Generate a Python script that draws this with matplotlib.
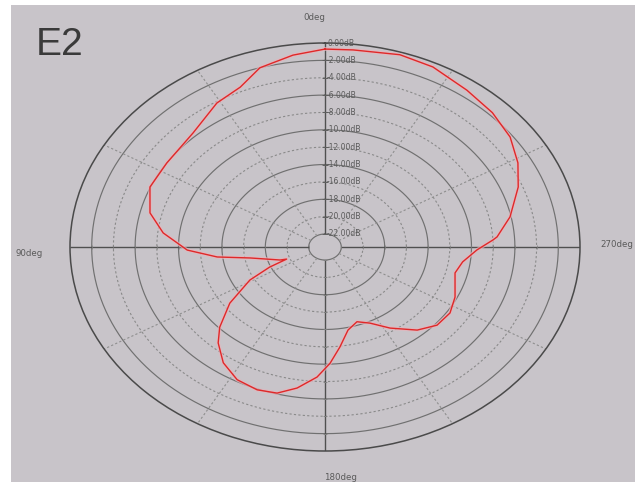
import numpy as np
import matplotlib
matplotlib.use('Agg')
import matplotlib.pyplot as plt
from matplotlib.patches import Rectangle

# pattern: angle (deg, ccw from top) and gain (dB)
angle_deg = [0.0, 7.6, 16.2, 23.0, 31.0, 42.8, 56.4, 66.8, 76.3, 83.8,
             91.6, 96.6, 100.4, 109.9, 111.5, 114.4, 118.8, 126.4, 133.6, 138.3,
             144.9, 152.1, 159.2, 165.3, 171.0, 177.2, 182.0, 186.8, 192.5, 198.9,
             205.3, 212.7, 221.6, 228.9, 236.6, 244.3, 256.0, 262.3, 268.6, 273.0,
             274.2, 281.5, 291.2, 298.6, 306.6, 315.1, 324.1, 334.4, 342.7, 353.5]
gain_db = [-0.7, -1.2, -2.0, -3.5, -4.15, -5.6, -6.0, -5.95, -6.9, -8.5,
           -10.8, -13.5, -16.5, -19.1, -19.7, -17.9, -15.6, -12.6, -10.1, -8.7,
           -7.2, -6.2, -5.9, -6.1, -7.05, -8.5, -10.1, -11.9, -13.7, -14.4,
           -13.8, -12.4, -10.7, -9.8, -9.7, -10.2, -11.15, -10.7, -9.5, -8.0,
           -7.6, -6.1, -4.4, -3.25, -2.25, -1.65, -1.2, -0.5, -0.3, -0.65]

ring_db = [-2, -4, -6, -8, -10, -12, -14, -16, -18, -20, -22]
label_db = [0] + ring_db
ring_labels = ['0.00dB', '-2.00dB', '-4.00dB', '-6.00dB', '-8.00dB', '-10.00dB',
               '-12.00dB', '-14.00dB', '-16.00dB', '-18.00dB', '-20.00dB', '-22.00dB']
spoke_deg = [30, 60, 120, 150, 210, 240, 300, 330]
axis_deg = [0, 90, 180, 270]
axis_labels = ['0deg', '90deg', '180deg', '270deg']

bg = '#c8c4c9'
r_min = -23.5

fig = plt.figure(figsize=(6.35, 4.82), dpi=100, facecolor='white')
fig.patches.append(Rectangle((11 / 635, 0), 1, 1 - 5 / 482, transform=fig.transFigure,
                             facecolor=bg, edgecolor='none', zorder=-10))

ax = fig.add_axes([70 / 635, 31 / 482, 510 / 635, 408 / 482], projection='polar')
ax.set_aspect('auto')
ax.set_theta_zero_location('N')
ax.set_theta_direction(1)
ax.set_rlim(r_min, 0)
ax.grid(False)
ax.set_xticks([])
ax.set_yticks([])
ax.set_facecolor(bg)
ax.spines['polar'].set_color('#4a4a4a')
ax.spines['polar'].set_linewidth(1.1)

# rings: solid / dashed alternating
full = np.linspace(0, 2 * np.pi, 721)
for r in ring_db:
    if r % 4 == 0:
        ax.plot(full, np.full_like(full, r), color='#8a8a8a', lw=0.8, ls=(0, (2, 2)))
    else:
        ax.plot(full, np.full_like(full, r), color='#707070', lw=0.85)

ax.vlines(np.deg2rad(spoke_deg), -22, 0, color='#8e8e8e', lw=0.8, linestyles=(0, (2, 2)))
ax.vlines(np.deg2rad(axis_deg), -22, 0, color='#505050', lw=1.0)

# little ticks across the main axes
ax.plot(np.zeros(len(label_db)), label_db, ls='none', marker='_', ms=5, mew=0.6, color='#606060')
ax.plot(np.full(len(ring_db), np.pi), ring_db, ls='none', marker='_', ms=3, mew=0.5, color='#808080')
ax.plot(np.full(len(ring_db), np.pi / 2), ring_db, ls='none', marker='|', ms=3, mew=0.5, color='#808080')
ax.plot(np.full(len(ring_db), 1.5 * np.pi), ring_db, ls='none', marker='|', ms=3, mew=0.5, color='#808080')

for r, lab in zip(label_db, ring_labels):
    ax.annotate(lab, (0, r), xytext=(2, 0), textcoords='offset pixels',
                ha='left', va='center', fontsize=5.5, color='#5a5a5a')

angle_off = [(-11, 25, 'center'), (-27, -6, 'right'), (15, -26, 'center'), (20, 3, 'left')]
for a, lab, (dx, dy, ha) in zip(axis_deg, axis_labels, angle_off):
    ax.annotate(lab, (np.deg2rad(a), 0), xytext=(dx, dy), textcoords='offset pixels',
                ha=ha, va='center', fontsize=6.2, color='#5a5a5a', annotation_clip=False)

th = np.deg2rad(np.r_[angle_deg, angle_deg[0] + 360])
g = np.r_[gain_db, gain_db[0]]
ax.plot(th, g, color='#e8b4bc', lw=2.6, alpha=0.7, zorder=5)
ax.plot(th, g, color='#e02828', lw=1.0, zorder=6)

fig.text(36 / 635, 1 - 55 / 482, 'E2', fontsize=28, family='Liberation Sans',
         color='#3a3a3a', va='baseline', ha='left')

fig.savefig('out.png', dpi=100, facecolor=fig.get_facecolor())
